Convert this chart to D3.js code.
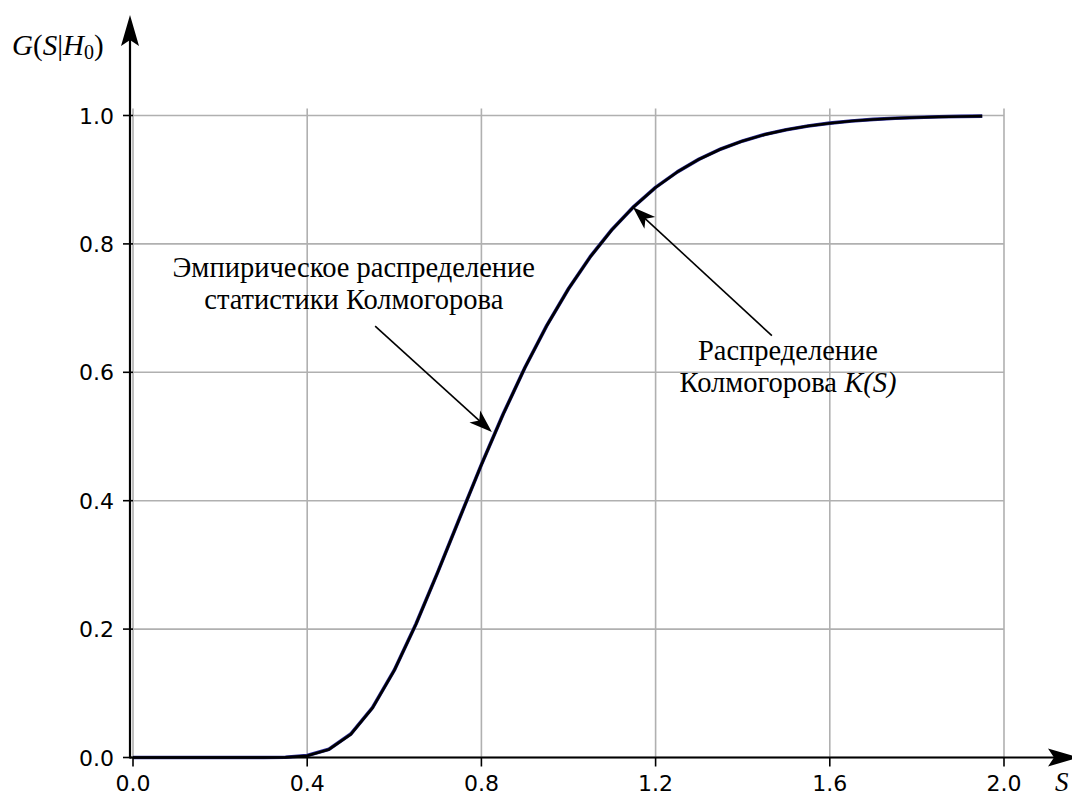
<!DOCTYPE html>
<html>
<head>
<meta charset="utf-8">
<script src="https://cdn.jsdelivr.net/npm/d3@7"></script>
<style>
  html, body { margin: 0; padding: 0; background: #fff; }
  svg { display: block; }
</style>
</head>
<body>
<svg id="chart" width="1072" height="796"></svg>
<script>
// Argument values S
const sValues = [0.00, 0.05, 0.10, 0.15, 0.20, 0.25, 0.30, 0.35, 0.40, 0.45,
                 0.50, 0.55, 0.60, 0.65, 0.70, 0.75, 0.80, 0.85, 0.90, 0.95,
                 1.00, 1.05, 1.10, 1.15, 1.20, 1.25, 1.30, 1.35, 1.40, 1.45,
                 1.50, 1.55, 1.60, 1.65, 1.70, 1.75, 1.80, 1.85, 1.90, 1.95];
// Kolmogorov distribution K(S)
const kolmogorov = [0.0000, 0.0000, 0.0000, 0.0000, 0.0000, 0.0000, 0.0000, 0.0003, 0.0028, 0.0126,
                    0.0361, 0.0772, 0.1357, 0.2080, 0.2888, 0.3728, 0.4559, 0.5347, 0.6073, 0.6725,
                    0.7300, 0.7798, 0.8223, 0.8580, 0.8878, 0.9121, 0.9319, 0.9478, 0.9603, 0.9702,
                    0.9778, 0.9836, 0.9880, 0.9914, 0.9938, 0.9956, 0.9969, 0.9979, 0.9985, 0.9990];
// Empirical distribution of the Kolmogorov statistic
const empirical = [0.0000, 0.0000, 0.0000, 0.0000, 0.0000, 0.0000, 0.0000, 0.0004, 0.0030, 0.0129,
                   0.0365, 0.0776, 0.1360, 0.2084, 0.2891, 0.3731, 0.4562, 0.5350, 0.6075, 0.6727,
                   0.7302, 0.7800, 0.8225, 0.8582, 0.8880, 0.9122, 0.9320, 0.9479, 0.9604, 0.9703,
                   0.9779, 0.9837, 0.9881, 0.9915, 0.9939, 0.9957, 0.9970, 0.9980, 0.9986, 0.9991];
const xTicks = [0.0, 0.4, 0.8, 1.2, 1.6, 2.0];
const yTicks = [0.0, 0.2, 0.4, 0.6, 0.8, 1.0];

const svg = d3.select("#chart");
const x = d3.scaleLinear().domain([0, 2]).range([133, 1004]);
const y = d3.scaleLinear().domain([0, 1]).range([757.5, 115.5]);
const yGridTop = 1.011;
const tickFont = "DejaVu Sans, sans-serif";
const serif = "Liberation Serif, Times New Roman, serif";

// grid
const grid = svg.append("g").attr("stroke", "#b0b0b0").attr("stroke-width", 1.6);
grid.selectAll("line.v").data(xTicks).join("line")
  .attr("x1", d => x(d)).attr("x2", d => x(d))
  .attr("y1", y(0)).attr("y2", y(yGridTop));
grid.selectAll("line.h").data(yTicks).join("line")
  .attr("x1", x(0)).attr("x2", x(2))
  .attr("y1", d => y(d)).attr("y2", d => y(d));

// curves
const line = d3.line().x((d, i) => x(sValues[i])).y(d => y(d));
svg.append("path").datum(empirical).attr("d", line)
  .attr("fill", "none").attr("stroke", "#2a2a96").attr("stroke-width", 3.6)
  .attr("stroke-linejoin", "round");
svg.append("path").datum(kolmogorov).attr("d", line)
  .attr("fill", "none").attr("stroke", "#000").attr("stroke-width", 2.6)
  .attr("stroke-linejoin", "round");

// stealth arrowhead helper: tip at (tx,ty), pointing along angle a
function head(g, tx, ty, a, len, half, notch) {
  const c = Math.cos(a), s = Math.sin(a);
  const pt = (u, v) => [tx + u * c - v * s, ty + u * s + v * c];
  const p = [pt(0, 0), pt(-len, -half), pt(-len + notch, 0), pt(-len, half)];
  g.append("path").attr("d", "M" + p.map(q => q.join(",")).join("L") + "Z")
    .attr("fill", "#000");
}

// axes with arrows
const axes = svg.append("g");
const axisX0 = 130;
axes.append("line").attr("x1", axisX0).attr("x2", 1060)
  .attr("y1", y(0)).attr("y2", y(0)).attr("stroke", "#000").attr("stroke-width", 2.2);
head(axes, 1079, y(0), 0, 31, 9, 6);
axes.append("line").attr("x1", axisX0).attr("x2", axisX0)
  .attr("y1", y(0) + 1).attr("y2", 30).attr("stroke", "#000").attr("stroke-width", 2.2);
head(axes, axisX0, 15, -Math.PI / 2, 31, 9, 6);

// ticks
axes.selectAll("line.xt").data(xTicks).join("line")
  .attr("x1", d => x(d)).attr("x2", d => x(d))
  .attr("y1", y(0)).attr("y2", y(0) + 9)
  .attr("stroke", "#000").attr("stroke-width", 1.6);
axes.selectAll("line.yt").data(yTicks).join("line")
  .attr("x1", 123).attr("x2", 133)
  .attr("y1", d => y(d)).attr("y2", d => y(d))
  .attr("stroke", "#000").attr("stroke-width", 1.6);
axes.selectAll("text.xl").data(xTicks).join("text")
  .attr("x", d => x(d)).attr("y", 791)
  .attr("text-anchor", "middle").attr("font-family", tickFont).attr("font-size", 22)
  .text(d => d.toFixed(1));
axes.selectAll("text.yl").data(yTicks).join("text")
  .attr("x", 114).attr("y", d => y(d) + 8)
  .attr("text-anchor", "end").attr("font-family", tickFont).attr("font-size", 22)
  .text(d => d.toFixed(1));

// axis titles
const yt = svg.append("text").attr("x", 12).attr("y", 55)
  .attr("font-family", serif).attr("font-size", 29);
yt.append("tspan").attr("font-style", "italic").text("G");
yt.append("tspan").text("(");
yt.append("tspan").attr("font-style", "italic").text("S");
yt.append("tspan").text("|");
yt.append("tspan").attr("font-style", "italic").text("H");
yt.append("tspan").attr("font-size", 20).attr("dy", 4).text("0");
yt.append("tspan").attr("dy", -4).text(")");
svg.append("text").attr("x", 1055).attr("y", 791)
  .attr("font-family", serif).attr("font-size", 27).attr("font-style", "italic").text("S");

// annotations
const notes = svg.append("g").attr("font-family", serif).attr("font-size", 28.5)
  .attr("text-anchor", "middle");
notes.append("text").attr("x", x(0.507)).attr("y", y(0.748)).text("Эмпирическое распределение");
notes.append("text").attr("x", x(0.507)).attr("y", y(0.699)).text("статистики Колмогорова");
notes.append("text").attr("x", x(1.504)).attr("y", y(0.619)).text("Распределение");
const k2 = notes.append("text").attr("x", x(1.504)).attr("y", y(0.569));
k2.append("tspan").text("Колмогорова ");
k2.append("tspan").attr("font-style", "italic").text("K(S)");

// annotation arrows (data coordinates)
const arrows = [
  { from: [0.556, 0.672], to: [0.824, 0.507] },
  { from: [1.467, 0.657], to: [1.148, 0.857] }
];
const ag = svg.append("g");
arrows.forEach(a => {
  const x1 = x(a.from[0]), y1 = y(a.from[1]), x2 = x(a.to[0]), y2 = y(a.to[1]);
  const ang = Math.atan2(y2 - y1, x2 - x1);
  ag.append("line").attr("x1", x1).attr("y1", y1)
    .attr("x2", x2 - 14 * Math.cos(ang)).attr("y2", y2 - 14 * Math.sin(ang))
    .attr("stroke", "#000").attr("stroke-width", 1.6);
  head(ag, x2, y2, ang, 23, 8, 6);
});
</script>
</body>
</html>
